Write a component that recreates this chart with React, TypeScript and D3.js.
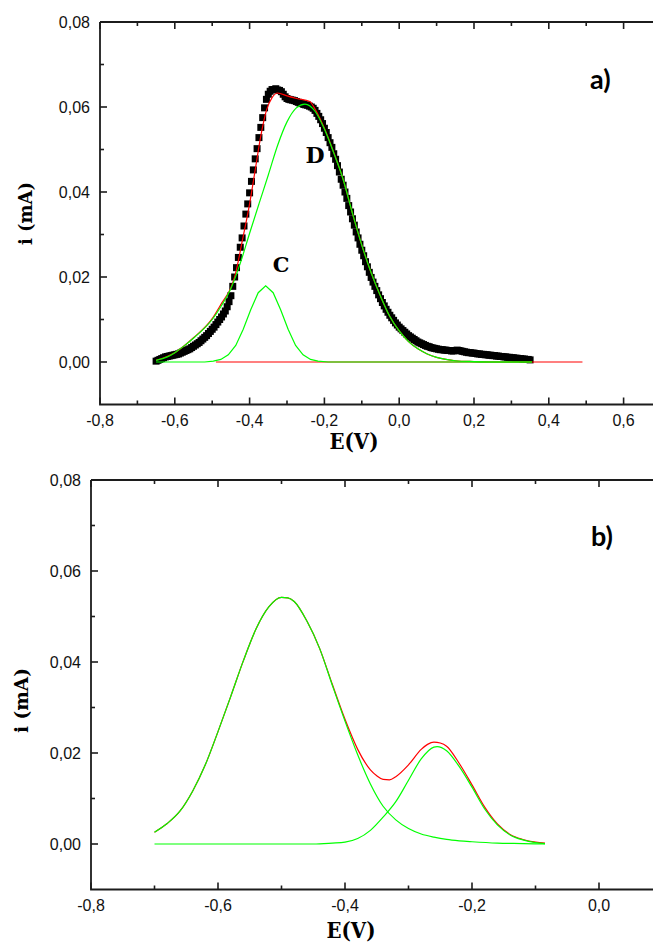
import React from "react";
import * as d3 from "d3";

// ---------- Panel a) data ----------
// measured points (E in V, i in mA)
const scatterA: [number, number][] = [
  [-0.650, 0.0002], [-0.645, 0.0004], [-0.640, 0.0006], [-0.635, 0.0008], [-0.630, 0.0010],
  [-0.625, 0.0012], [-0.620, 0.0013], [-0.615, 0.0014], [-0.610, 0.0015], [-0.605, 0.0016],
  [-0.600, 0.0017], [-0.595, 0.0018], [-0.590, 0.0019], [-0.585, 0.0021], [-0.580, 0.0023],
  [-0.575, 0.0025], [-0.570, 0.0027], [-0.565, 0.0029], [-0.560, 0.0031], [-0.555, 0.0034],
  [-0.550, 0.0037], [-0.545, 0.0040], [-0.540, 0.0043], [-0.535, 0.0046], [-0.530, 0.0050],
  [-0.525, 0.0054], [-0.520, 0.0058], [-0.515, 0.0062], [-0.510, 0.0067], [-0.505, 0.0072],
  [-0.500, 0.0077], [-0.495, 0.0082], [-0.490, 0.0088], [-0.485, 0.0094], [-0.480, 0.0100],
  [-0.475, 0.0106], [-0.470, 0.0113], [-0.465, 0.0120], [-0.460, 0.0130], [-0.455, 0.0142],
  [-0.450, 0.0156], [-0.445, 0.0178], [-0.440, 0.0200], [-0.435, 0.0222], [-0.430, 0.0246],
  [-0.425, 0.0270], [-0.420, 0.0292], [-0.415, 0.0320], [-0.410, 0.0348], [-0.405, 0.0372],
  [-0.400, 0.0398], [-0.395, 0.0425], [-0.390, 0.0452], [-0.385, 0.0478], [-0.380, 0.0502],
  [-0.375, 0.0528], [-0.370, 0.0552], [-0.365, 0.0575], [-0.360, 0.0598], [-0.355, 0.0618],
  [-0.350, 0.0630], [-0.345, 0.0637], [-0.340, 0.0641], [-0.335, 0.0641], [-0.330, 0.0643],
  [-0.325, 0.0640], [-0.320, 0.0639], [-0.315, 0.0636], [-0.310, 0.0630], [-0.305, 0.0624],
  [-0.300, 0.0620], [-0.295, 0.0618], [-0.290, 0.0617], [-0.285, 0.0616], [-0.280, 0.0615],
  [-0.275, 0.0613], [-0.270, 0.0611], [-0.265, 0.0609], [-0.260, 0.0608], [-0.255, 0.0606],
  [-0.250, 0.0605], [-0.245, 0.0604], [-0.240, 0.0602], [-0.235, 0.0600], [-0.230, 0.0597],
  [-0.225, 0.0592], [-0.220, 0.0585], [-0.215, 0.0578], [-0.210, 0.0570], [-0.205, 0.0561],
  [-0.200, 0.0550], [-0.195, 0.0540], [-0.190, 0.0528], [-0.185, 0.0516], [-0.180, 0.0505],
  [-0.175, 0.0490], [-0.170, 0.0477], [-0.165, 0.0462], [-0.160, 0.0447], [-0.155, 0.0430],
  [-0.150, 0.0416], [-0.145, 0.0400], [-0.140, 0.0385], [-0.135, 0.0368], [-0.130, 0.0353],
  [-0.125, 0.0337], [-0.120, 0.0322], [-0.115, 0.0306], [-0.110, 0.0292], [-0.105, 0.0277],
  [-0.100, 0.0263], [-0.095, 0.0250], [-0.090, 0.0236], [-0.085, 0.0224], [-0.080, 0.0211],
  [-0.075, 0.0199], [-0.070, 0.0188], [-0.065, 0.0178], [-0.060, 0.0168], [-0.055, 0.0158],
  [-0.050, 0.0149], [-0.045, 0.0140], [-0.040, 0.0132], [-0.035, 0.0124], [-0.030, 0.0117],
  [-0.025, 0.0110], [-0.020, 0.0104], [-0.015, 0.0098], [-0.010, 0.0092], [-0.005, 0.0087],
  [0.000, 0.0082], [0.005, 0.0078], [0.010, 0.0074], [0.015, 0.0070], [0.020, 0.0066],
  [0.025, 0.0062], [0.030, 0.0059], [0.035, 0.0056], [0.040, 0.0053], [0.045, 0.0050],
  [0.050, 0.0047], [0.055, 0.0045], [0.060, 0.0043], [0.065, 0.0041], [0.070, 0.0039],
  [0.075, 0.0037], [0.080, 0.0036], [0.085, 0.0034], [0.090, 0.0033], [0.095, 0.0032],
  [0.100, 0.0031], [0.105, 0.0030], [0.110, 0.0029], [0.115, 0.0029], [0.120, 0.0028],
  [0.125, 0.0028], [0.130, 0.0027], [0.135, 0.0027], [0.140, 0.0026], [0.145, 0.0026],
  [0.150, 0.0027], [0.155, 0.0028], [0.160, 0.0027], [0.165, 0.0026], [0.170, 0.0025],
  [0.175, 0.0024], [0.180, 0.0023], [0.185, 0.0022], [0.190, 0.0022], [0.195, 0.0021],
  [0.200, 0.0021], [0.205, 0.0020], [0.210, 0.0019], [0.215, 0.0019], [0.220, 0.0018],
  [0.225, 0.0018], [0.230, 0.0017], [0.235, 0.0017], [0.240, 0.0016], [0.245, 0.0016],
  [0.250, 0.0015], [0.255, 0.0015], [0.260, 0.0014], [0.265, 0.0014], [0.270, 0.0013],
  [0.275, 0.0013], [0.280, 0.0012], [0.285, 0.0012], [0.290, 0.0011], [0.295, 0.0011],
  [0.300, 0.0010], [0.305, 0.0010], [0.310, 0.0009], [0.315, 0.0009], [0.320, 0.0008],
  [0.325, 0.0008], [0.330, 0.0007], [0.335, 0.0007], [0.340, 0.0006], [0.345, 0.0006],
  [0.350, 0.0005],
];

// fitted total (red)
const fitTotalA: [number, number][] = [
  [-0.65, 0.0004], [-0.60, 0.0022], [-0.55, 0.0057], [-0.50, 0.0102], [-0.475, 0.0138],
  [-0.45, 0.0175], [-0.44, 0.0200], [-0.42, 0.0283], [-0.40, 0.0372], [-0.385, 0.0452],
  [-0.37, 0.0532], [-0.355, 0.0592], [-0.34, 0.0622], [-0.325, 0.0633], [-0.30, 0.0626],
  [-0.274, 0.0620], [-0.239, 0.0613], [-0.225, 0.0595], [-0.20, 0.0550], [-0.175, 0.0493],
  [-0.15, 0.0430], [-0.125, 0.0350], [-0.10, 0.0275], [-0.075, 0.0210], [-0.05, 0.0155],
  [-0.025, 0.0107], [0.0, 0.0073], [0.025, 0.0048], [0.05, 0.0031], [0.075, 0.0019],
  [0.10, 0.0011], [0.125, 0.0006], [0.15, 0.0003], [0.20, 0.0001], [0.25, 0.0], [0.355, 0.0],
];

// red baseline
const baselineA: [number, number][] = [[-0.49, 0], [0.49, 0]];

// peak C (green)
const peakCA: [number, number][] = [
  [-0.65, 0], [-0.52, 0], [-0.497, 0.0002], [-0.477, 0.0006], [-0.457, 0.0017],
  [-0.437, 0.0039], [-0.417, 0.0077], [-0.397, 0.0123], [-0.377, 0.0163], [-0.357, 0.0179],
  [-0.337, 0.0163], [-0.317, 0.0123], [-0.297, 0.0077], [-0.277, 0.0039], [-0.257, 0.0017],
  [-0.237, 0.0006], [-0.217, 0.0002], [-0.19, 0], [0.355, 0],
];

// peak D (green)
const peakDA: [number, number][] = [
  [-0.65, 0.0004], [-0.62, 0.0012], [-0.60, 0.0022], [-0.575, 0.0038], [-0.55, 0.0056],
  [-0.525, 0.0076], [-0.50, 0.0100], [-0.475, 0.0133], [-0.45, 0.0173], [-0.425, 0.0232],
  [-0.40, 0.0303], [-0.375, 0.0372], [-0.35, 0.0440], [-0.325, 0.0510], [-0.30, 0.0565],
  [-0.275, 0.0598], [-0.252, 0.0607], [-0.225, 0.0590], [-0.20, 0.0548], [-0.175, 0.0492],
  [-0.15, 0.0430], [-0.125, 0.0350], [-0.10, 0.0275], [-0.075, 0.0210], [-0.05, 0.0155],
  [-0.025, 0.0107], [0.0, 0.0073], [0.025, 0.0048], [0.05, 0.0031], [0.075, 0.0019],
  [0.10, 0.0011], [0.125, 0.0006], [0.15, 0.0003], [0.20, 0.0001], [0.25, 0.0], [0.355, 0.0],
];

// ---------- Panel b) data ----------
const peak1B: [number, number][] = [
  [-0.70, 0.0026], [-0.68, 0.0045], [-0.66, 0.0072], [-0.64, 0.0116], [-0.62, 0.0174],
  [-0.60, 0.0247], [-0.58, 0.0324], [-0.56, 0.0403], [-0.54, 0.0473], [-0.52, 0.0521],
  [-0.50, 0.0542], [-0.49, 0.0541], [-0.48, 0.0533], [-0.46, 0.0490], [-0.44, 0.0430],
  [-0.42, 0.0349], [-0.40, 0.0270], [-0.38, 0.0196], [-0.36, 0.0132], [-0.34, 0.0083],
  [-0.32, 0.0053], [-0.30, 0.0034], [-0.28, 0.0022], [-0.26, 0.0015], [-0.24, 0.0010],
  [-0.22, 0.0007], [-0.20, 0.0005], [-0.16, 0.0002], [-0.12, 0.0001], [-0.085, 0.0],
];

const peak2B: [number, number][] = [
  [-0.70, 0], [-0.45, 0], [-0.42, 0.0002], [-0.40, 0.0004], [-0.38, 0.0012],
  [-0.36, 0.0030], [-0.34, 0.0059], [-0.32, 0.0093], [-0.30, 0.0140], [-0.28, 0.0187],
  [-0.26, 0.0213], [-0.255, 0.0214], [-0.24, 0.0205], [-0.22, 0.0170], [-0.20, 0.0125],
  [-0.18, 0.0077], [-0.16, 0.0042], [-0.14, 0.0020], [-0.12, 0.0009], [-0.10, 0.0003],
  [-0.085, 0.0001],
];

const fitTotalB: [number, number][] = [
  [-0.70, 0.0026], [-0.68, 0.0045], [-0.66, 0.0072], [-0.64, 0.0116], [-0.62, 0.0174],
  [-0.60, 0.0247], [-0.58, 0.0324], [-0.56, 0.0403], [-0.54, 0.0473], [-0.52, 0.0521],
  [-0.50, 0.0542], [-0.49, 0.0541], [-0.48, 0.0533], [-0.46, 0.0490], [-0.44, 0.0430],
  [-0.42, 0.0351], [-0.40, 0.0274], [-0.38, 0.0208], [-0.36, 0.0163], [-0.35, 0.0150],
  [-0.34, 0.0142], [-0.33, 0.0141], [-0.32, 0.0148], [-0.30, 0.0174], [-0.28, 0.0208],
  [-0.27, 0.0219], [-0.26, 0.0224], [-0.25, 0.0222], [-0.24, 0.0215], [-0.22, 0.0177],
  [-0.20, 0.0130], [-0.18, 0.0081], [-0.16, 0.0044], [-0.14, 0.0021], [-0.12, 0.0010],
  [-0.10, 0.0004], [-0.085, 0.0002],
];

// ---------- ticks ----------
const xMajorA = [-0.8, -0.6, -0.4, -0.2, 0.0, 0.2, 0.4, 0.6];
const xMajorLabelsA = ["-0,8", "-0,6", "-0,4", "-0,2", "0,0", "0,2", "0,4", "0,6"];
const xMinorA = [-0.7, -0.5, -0.3, -0.1, 0.1, 0.3, 0.5];
const xMajorB = [-0.8, -0.6, -0.4, -0.2, 0.0];
const xMajorLabelsB = ["-0,8", "-0,6", "-0,4", "-0,2", "0,0"];
const xMinorB = [-0.7, -0.5, -0.3, -0.1];
const yMajor = [0.0, 0.02, 0.04, 0.06, 0.08];
const yMajorLabels = ["0,00", "0,02", "0,04", "0,06", "0,08"];
const yMinor = [0.01, 0.03, 0.05, 0.07];

const GREEN = "#00ff00";
const RED = "#ff0000";
const AX = "#1c1c1c";
const TICKFONT = "'Liberation Sans', Arial, sans-serif";
const TITLEFONT = "'DejaVu Serif', serif";

type Scale = d3.ScaleLinear<number, number>;

function Frame({ x, y, xMajor, xLabels, xMinor }: { x: Scale; y: Scale; xMajor: number[]; xLabels: string[]; xMinor: number[] }) {
  const [x0, x1] = x.range();
  const [y0, y1] = y.range(); // y0 bottom, y1 top
  const maj = 7;
  const min = 4;
  return (
    <g>
      <path d={`M${x0},${y1}V${y0}H${x1}M${x0},${y1}H${x1}V${y0}`} fill="none" stroke={AX} strokeWidth={1.8} />
      {xMajor.map((v, k) => (
        <g key={"xm" + k}>
          <line x1={x(v)} x2={x(v)} y1={y0} y2={y0 - maj} stroke={AX} strokeWidth={1.6} />
          <line x1={x(v)} x2={x(v)} y1={y1} y2={y1 + maj} stroke={AX} strokeWidth={1.6} />
          <text x={x(v)} y={y0 + 21} textAnchor="middle" fontFamily={TICKFONT} fontSize={16} fill="#111">
            {xLabels[k]}
          </text>
        </g>
      ))}
      {xMinor.map((v, k) => (
        <g key={"xn" + k}>
          <line x1={x(v)} x2={x(v)} y1={y0} y2={y0 - min} stroke={AX} strokeWidth={1.6} />
          <line x1={x(v)} x2={x(v)} y1={y1} y2={y1 + min} stroke={AX} strokeWidth={1.6} />
        </g>
      ))}
      {yMajor.map((v, k) => (
        <g key={"ym" + k}>
          <line x1={x0} x2={x0 + maj} y1={y(v)} y2={y(v)} stroke={AX} strokeWidth={1.6} />
          <line x1={x1} x2={x1 - maj} y1={y(v)} y2={y(v)} stroke={AX} strokeWidth={1.6} />
          <text x={x0 - 10} y={y(v) + 6} textAnchor="end" fontFamily={TICKFONT} fontSize={16} fill="#111">
            {yMajorLabels[k]}
          </text>
        </g>
      ))}
      {yMinor.map((v, k) => (
        <g key={"yn" + k}>
          <line x1={x0} x2={x0 + min} y1={y(v)} y2={y(v)} stroke={AX} strokeWidth={1.6} />
          <line x1={x1} x2={x1 - min} y1={y(v)} y2={y(v)} stroke={AX} strokeWidth={1.6} />
        </g>
      ))}
    </g>
  );
}

export default function App() {
  const xA = d3.scaleLinear().domain([-0.8, 0.7]).range([100, 661]);
  const yA = d3.scaleLinear().domain([-0.01, 0.08]).range([404.5, 22]);
  const xB = d3.scaleLinear().domain([-0.8, 0.1]).range([91, 662.5]);
  const yB = d3.scaleLinear().domain([-0.01, 0.08]).range([889.5, 480]);

  const lineA = d3.line<[number, number]>().x((d) => xA(d[0])).y((d) => yA(d[1])).curve(d3.curveMonotoneX);
  const lineALin = d3.line<[number, number]>().x((d) => xA(d[0])).y((d) => yA(d[1]));
  const lineB = d3.line<[number, number]>().x((d) => xB(d[0])).y((d) => yB(d[1])).curve(d3.curveMonotoneX);

  const sq = 7;

  return (
    <svg width={653} height={945} style={{ position: "absolute", left: 0, top: 0, background: "#fff" }}>
      <rect width={653} height={945} fill="#fff" />
      {/* ---------------- Panel a ---------------- */}
      <g>
        {scatterA.map((d, k) => (
          <rect key={k} x={xA(d[0]) - sq / 2} y={yA(d[1]) - sq / 2} width={sq} height={sq} fill="#000" />
        ))}
        <path d={lineALin(baselineA) || ""} fill="none" stroke={RED} strokeWidth={1.2} />
        <path d={lineA(fitTotalA) || ""} fill="none" stroke={RED} strokeWidth={1.2} />
        <path d={lineALin(peakCA) || ""} fill="none" stroke={GREEN} strokeWidth={1.2} />
        <path d={lineA(peakDA) || ""} fill="none" stroke={GREEN} strokeWidth={1.2} />
        <Frame x={xA} y={yA} xMajor={xMajorA} xLabels={xMajorLabelsA} xMinor={xMinorA} />
        <text x={315} y={163} textAnchor="middle" fontFamily={TITLEFONT} fontWeight="bold" fontSize={22}>D</text>
        <text x={281} y={271.5} textAnchor="middle" fontFamily={TITLEFONT} fontWeight="bold" fontSize={21}>C</text>
        <text x={590} y={89} fontFamily="Lato, 'Open Sans', sans-serif" fontWeight="bold" fontSize={27}>a)</text>
        <text x={354} y={449} textAnchor="middle" fontFamily={TITLEFONT} fontWeight="bold" fontSize={22}
          textLength={49} lengthAdjust="spacingAndGlyphs">E(V)</text>
        <text transform="translate(32,213.5) rotate(-90)" textAnchor="middle" fontFamily={TITLEFONT} fontWeight="bold"
          fontSize={19} textLength={63} lengthAdjust="spacingAndGlyphs">i (mA)</text>
      </g>
      {/* ---------------- Panel b ---------------- */}
      <g>
        <path d={lineB(fitTotalB) || ""} fill="none" stroke={RED} strokeWidth={1.2} />
        <path d={lineB(peak1B) || ""} fill="none" stroke={GREEN} strokeWidth={1.2} />
        <path d={lineB(peak2B) || ""} fill="none" stroke={GREEN} strokeWidth={1.2} />
        <Frame x={xB} y={yB} xMajor={xMajorB} xLabels={xMajorLabelsB} xMinor={xMinorB} />
        <text x={591} y={546} fontFamily="Lato, 'Open Sans', sans-serif" fontWeight="bold" fontSize={27}>b)</text>
        <text x={351} y={938} textAnchor="middle" fontFamily={TITLEFONT} fontWeight="bold" fontSize={22}
          textLength={49} lengthAdjust="spacingAndGlyphs">E(V)</text>
        <text transform="translate(28,700.5) rotate(-90)" textAnchor="middle" fontFamily={TITLEFONT} fontWeight="bold"
          fontSize={19} textLength={65} lengthAdjust="spacingAndGlyphs">i (mA)</text>
      </g>
    </svg>
  );
}
